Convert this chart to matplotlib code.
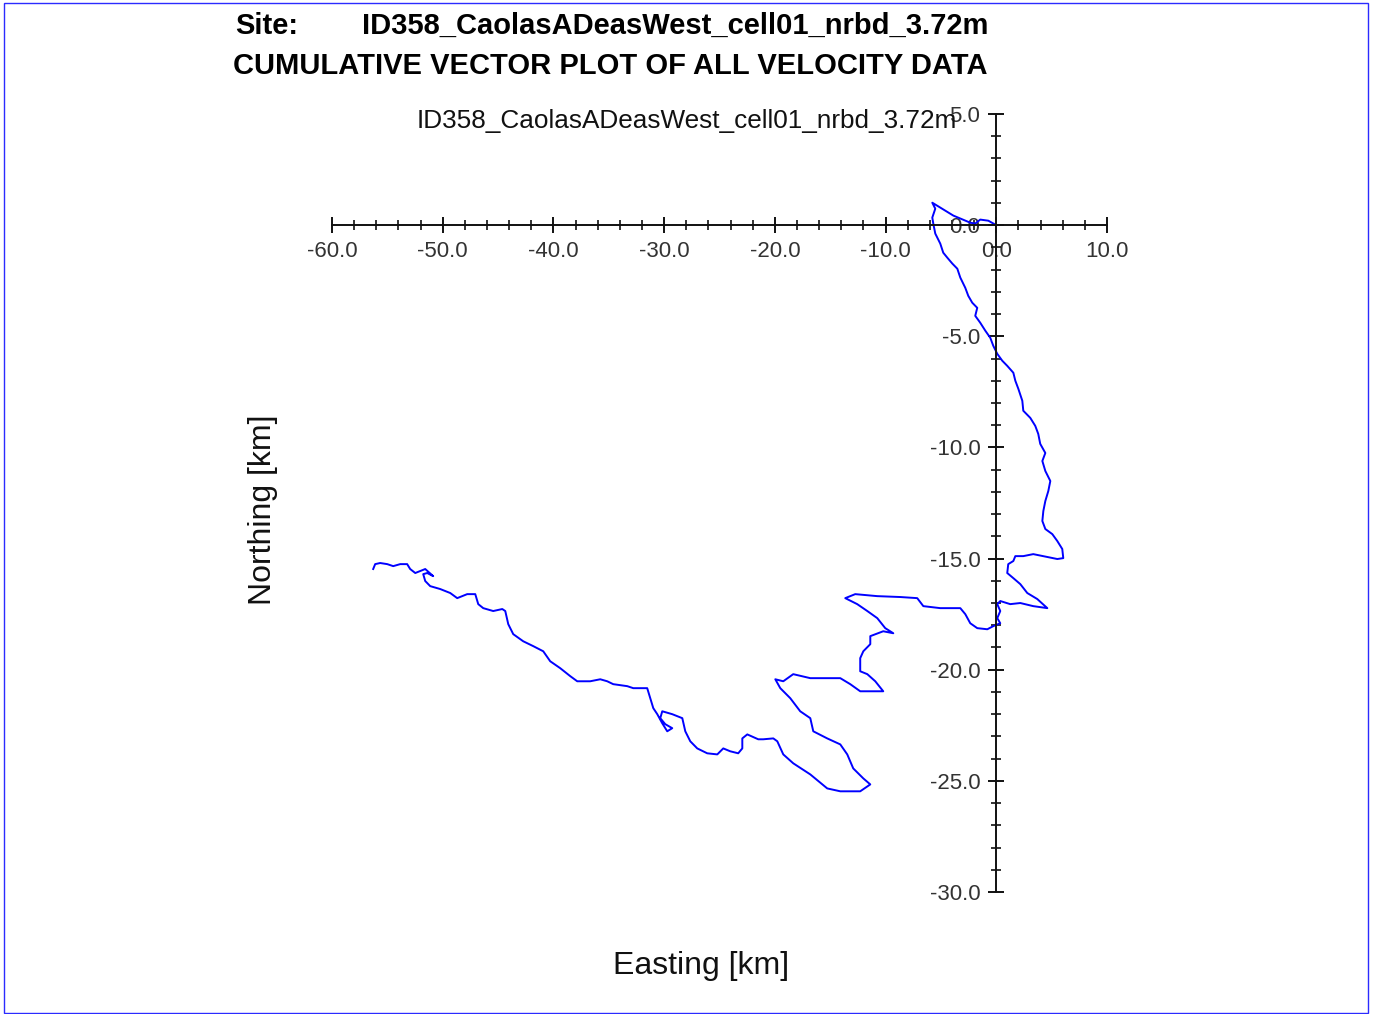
"""
Cumulative vector plot (progressive vector diagram) for ID358_CaolasADeasWest.
Path traced from the reference image, values in km.
"""

import matplotlib
matplotlib.use("Agg")
import matplotlib.pyplot as plt
from matplotlib.patches import Rectangle
from matplotlib.ticker import MultipleLocator, FormatStrFormatter

SITE = "ID358_CaolasADeasWest_cell01_nrbd_3.72m"
TITOLO = "CUMULATIVE VECTOR PLOT OF ALL VELOCITY DATA"

# cumulative displacement, easting [km]
EST = [0.00, -0.72, -1.45, -1.90, -2.35, -3.88, -4.61, -5.06, -5.78, -5.51,
       -5.78, -5.69, -5.51, -5.06, -4.79, -4.43, -3.97, -3.52, -3.25, -2.80,
       -2.53, -2.17, -1.72, -1.90, -1.45, -0.99, -0.54, -0.27, 0.09, 0.54,
       0.99, 1.54, 1.72, 1.99, 2.35, 2.44, 3.07, 3.52, 3.79, 3.97,
       4.43, 4.16, 4.43, 4.88, 4.70, 4.43, 4.25, 4.16, 4.43, 5.06,
       5.51, 5.96, 6.05, 5.51, 4.25, 3.34, 2.44, 1.72, 1.54, 1.08,
       0.99, 1.54, 2.17, 2.80, 3.70, 4.61, 3.34, 2.17, 1.26, 0.36,
       0.09, 0.36, 0.09, 0.36, -0.27, -0.81, -1.72, -2.35, -2.80, -3.25,
       -5.06, -6.59, -7.14, -8.67, -10.75, -12.74, -13.64, -12.56, -11.65, -10.75,
       -10.03, -9.30, -10.21, -11.38, -11.38, -12.01, -12.29, -12.29, -11.65, -10.93,
       -10.21, -12.29, -13.19, -14.09, -15.27, -16.80, -18.34, -19.24, -19.96, -19.51,
       -18.61, -17.71, -16.80, -16.53, -15.27, -14.09, -13.46, -12.92, -12.01, -11.38,
       -12.29, -14.09, -15.27, -16.80, -18.34, -19.24, -19.78, -20.14, -21.05, -21.50,
       -22.49, -22.94, -22.94, -23.31, -24.03, -24.66, -25.20, -26.11, -27.01, -27.64,
       -28.09, -28.36, -29.27, -30.17, -30.35, -29.90, -29.27, -29.72, -30.17, -30.62,
       -30.98, -31.26, -31.53, -32.79, -33.33, -34.60, -35.14, -35.77, -36.68, -37.85,
       -38.48, -39.39, -40.29, -40.92, -41.82, -42.73, -43.63, -44.08, -44.35, -44.62,
       -45.44, -46.34, -46.79, -47.06, -47.79, -48.69, -49.32, -50.23, -51.13, -51.58,
       -51.76, -51.40, -50.86, -51.58, -52.48, -52.94, -53.21, -53.84, -54.47, -55.01,
       -55.65, -56.10, -56.28]

# cumulative displacement, northing [km]
NORD = [0.00, 0.20, 0.25, 0.07, 0.11, 0.43, 0.65, 0.79, 1.01, 0.74,
        0.34, 0.07, -0.38, -0.83, -1.24, -1.46, -1.73, -1.96, -2.36, -2.82,
        -3.18, -3.49, -3.72, -4.08, -4.39, -4.75, -5.07, -5.43, -5.79, -6.10,
        -6.33, -6.64, -7.00, -7.36, -7.90, -8.35, -8.67, -9.03, -9.39, -9.84,
        -10.25, -10.61, -11.06, -11.51, -11.96, -12.41, -12.86, -13.31, -13.67, -13.90,
        -14.21, -14.57, -14.98, -15.02, -14.89, -14.80, -14.89, -14.89, -15.11, -15.25,
        -15.65, -15.88, -16.15, -16.55, -16.82, -17.23, -17.14, -17.00, -17.05, -16.91,
        -17.05, -17.36, -17.68, -17.91, -18.04, -18.18, -18.13, -17.91, -17.50, -17.23,
        -17.23, -17.14, -16.78, -16.73, -16.69, -16.60, -16.78, -17.05, -17.36, -17.68,
        -18.13, -18.36, -18.27, -18.49, -18.85, -19.17, -19.48, -20.07, -20.20, -20.52,
        -20.97, -20.97, -20.65, -20.38, -20.38, -20.38, -20.20, -20.52, -20.43, -20.83,
        -21.28, -21.87, -22.18, -22.77, -23.09, -23.36, -23.81, -24.44, -24.89, -25.16,
        -25.47, -25.47, -25.34, -24.71, -24.21, -23.81, -23.22, -23.09, -23.13, -23.13,
        -22.91, -23.09, -23.54, -23.76, -23.67, -23.54, -23.81, -23.76, -23.54, -23.22,
        -22.77, -22.18, -22.00, -21.87, -22.18, -22.45, -22.63, -22.77, -22.41, -22.00,
        -21.73, -21.28, -20.83, -20.83, -20.74, -20.65, -20.52, -20.43, -20.52, -20.52,
        -20.29, -19.93, -19.62, -19.17, -18.94, -18.72, -18.40, -17.95, -17.36, -17.27,
        -17.36, -17.23, -17.05, -16.60, -16.60, -16.78, -16.55, -16.37, -16.24, -16.01,
        -15.70, -15.65, -15.79, -15.47, -15.65, -15.47, -15.25, -15.25, -15.34, -15.25,
        -15.20, -15.25, -15.47]

XLIM = (-60, 10)
YLIM = (-30, 5)

W, H = 1378, 1014
plt.rcParams["font.family"] = ["Liberation Sans", "DejaVu Sans"]
plt.rcParams["axes.unicode_minus"] = False

fig = plt.figure(figsize=(W / 100, H / 100), dpi=100)

# riquadro blu attorno alla figura
fig.patches.append(Rectangle((4 / W, 1 - 1013 / H), 1364 / W, 1010 / H,
                             transform=fig.transFigure, fill=False,
                             edgecolor="#2b2bff", linewidth=1.0))

# assi: x -60..10 -> px 332..1107, y 5..-30 -> px 114..892
ax = fig.add_axes([332 / W, 1 - 892 / H, (1107 - 332) / W, (892 - 114) / H])
ax.plot(EST, NORD, color="#0000ff", linewidth=1.4)
ax.set_xlim(*XLIM)
ax.set_ylim(*YLIM)

for lato in ("top", "right"):
    ax.spines[lato].set_visible(False)
ax.spines["left"].set_position(("data", 0))
ax.spines["bottom"].set_position(("data", 0))
for lato in ("left", "bottom"):
    ax.spines[lato].set_linewidth(1.4)
    ax.spines[lato].set_color("#111111")

ax.xaxis.set_major_locator(MultipleLocator(10))
ax.xaxis.set_minor_locator(MultipleLocator(2))
ax.yaxis.set_major_locator(MultipleLocator(5))
ax.yaxis.set_minor_locator(MultipleLocator(1))
ax.xaxis.set_major_formatter(FormatStrFormatter("%.1f"))
ax.yaxis.set_major_formatter(FormatStrFormatter("%.1f"))
ax.tick_params(which="major", direction="inout", length=11, width=1.4,
               color="#111111", labelsize=16, labelcolor="#333333")
ax.tick_params(which="minor", direction="inout", length=7, width=1.2,
               color="#111111")
ax.tick_params(axis="x", which="major", pad=6)
ax.tick_params(axis="y", which="major", pad=6)
ax.patch.set_alpha(0)

# testi
fig.text(235 / W, 1 - 26 / H, "Site:", fontsize=21, fontweight="bold",
         ha="left", va="center")
fig.text(362 / W, 1 - 26 / H, SITE, fontsize=21, fontweight="bold",
         ha="left", va="center")
fig.text(233 / W, 1 - 66 / H, TITOLO, fontsize=21, fontweight="bold",
         ha="left", va="center")
fig.text(417 / W, 1 - 121 / H, SITE, fontsize=18.8, ha="left", va="center",
         color="#111111")
fig.text(701 / W, 1 - 966 / H, "Easting [km]", fontsize=23, ha="center",
         va="center", color="#111111")
fig.text(263 / W, 1 - 510 / H, "Northing [km]", fontsize=23, ha="center",
         va="center", rotation=90, color="#111111")

fig.savefig("out.png", dpi=100)
